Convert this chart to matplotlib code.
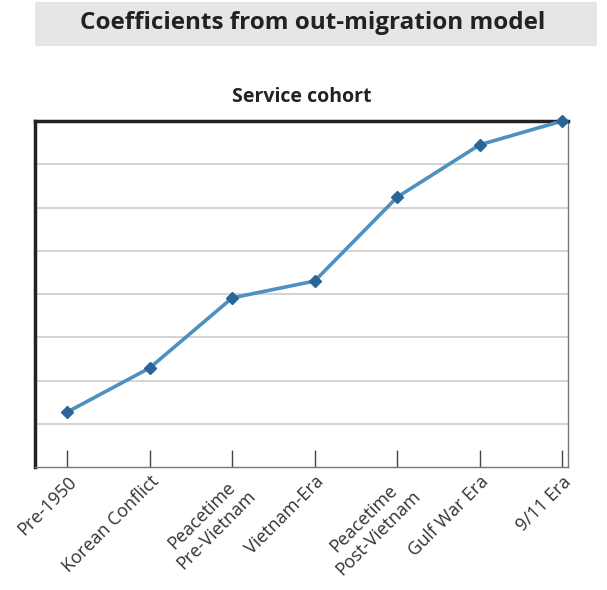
import matplotlib.pyplot as plt
from matplotlib.patches import Rectangle

plt.rcParams['font.family'] = ['Open Sans', 'DejaVu Sans']

cohorts = ['Pre-1950', 'Korean Conflict', 'Peacetime\nPre-Vietnam', 'Vietnam-Era',
           'Peacetime\nPost-Vietnam', 'Gulf War Era', '9/11 Era']
coef = [1.27, 2.29, 3.91, 4.30, 6.24, 7.45, 8.0]

fig = plt.figure(figsize=(6.07, 5.9), dpi=100)
W, H = 607, 590
ax = fig.add_axes([35 / W, 1 - 467 / H, (568 - 35) / W, (467 - 121) / H])

# title box
fig.patches.append(Rectangle((35 / W, 1 - 46 / H), (597 - 35) / W, 44 / H,
                             transform=fig.transFigure, facecolor='#e6e6e6',
                             edgecolor='none', zorder=0))
fig.text(313 / W, 1 - 23 / H, 'Coefficients from out-migration model',
         ha='center', va='center', fontsize=17.5, fontweight='bold', color='#222222')

x = list(range(len(cohorts)))
ax.plot(x, coef, '-', color='#4e90c0', lw=2.6, zorder=3, clip_on=False)
ax.plot(x, coef, 'D', color='#2b6496', ms=6, zorder=4, clip_on=False)

ax.set_xlim(-0.39, 6.07)
ax.set_ylim(0, 8)
ax.set_yticks(range(1, 8))
ax.yaxis.grid(True, color='#cccccc', lw=1.2)
ax.set_axisbelow(True)
ax.tick_params(axis='y', length=0, labelleft=False)
ax.set_xticks(x)
ax.set_xticklabels(cohorts, rotation=45, ha='right', rotation_mode='anchor',
                   fontsize=13, color='#333333', multialignment='center')
ax.tick_params(axis='x', direction='in', length=12, width=1, color='#444444', pad=4)

ax.spines['top'].set_linewidth(2.5)
ax.spines['left'].set_linewidth(2.5)
ax.spines['top'].set_color('#222222')
ax.spines['left'].set_color('#222222')
ax.spines['right'].set_linewidth(1)
ax.spines['bottom'].set_linewidth(1)
ax.spines['right'].set_color('#777777')
ax.spines['bottom'].set_color('#777777')

ax.set_title('Service cohort', fontsize=14, fontweight='bold', color='#222222', pad=14)

fig.savefig('out.png', dpi=100)
